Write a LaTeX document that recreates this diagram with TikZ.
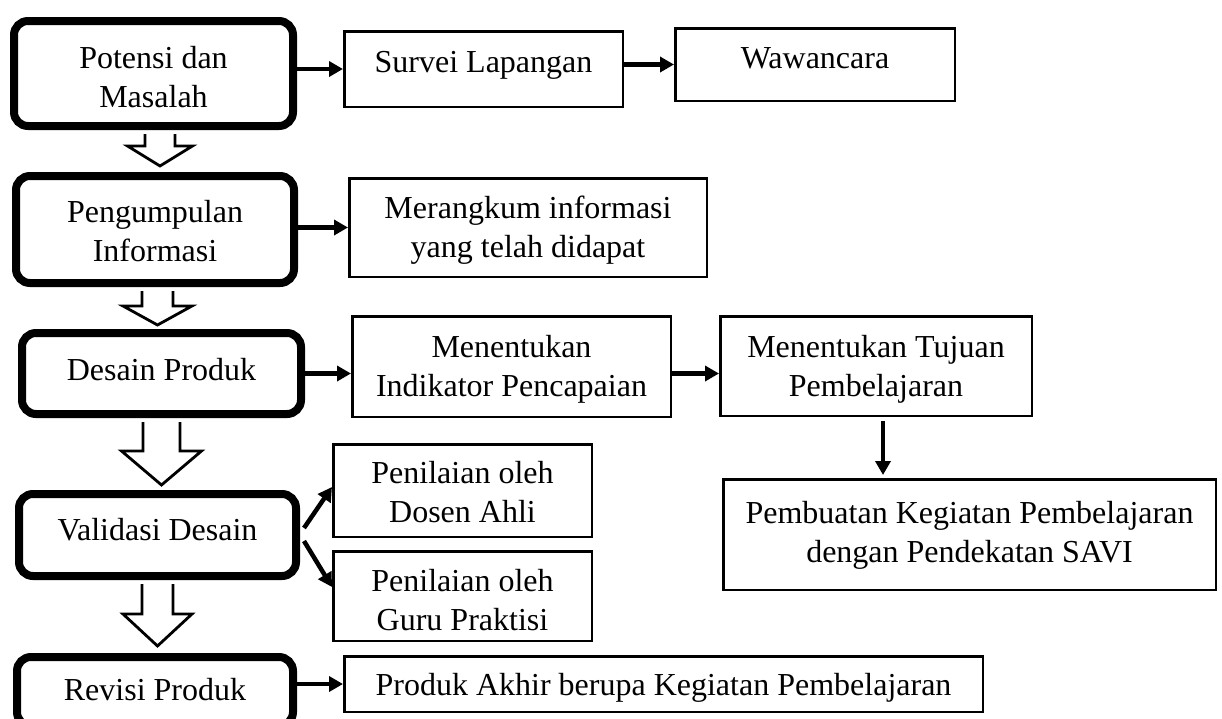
\documentclass[tikz,border=0pt]{standalone}
\usepackage{fontspec}
\setmainfont{Liberation Serif}
\usetikzlibrary{arrows.meta,calc}
\newcommand\twolines[2]{\begin{tabular}[t]{@{}c@{}}#1\\#2\end{tabular}}
\newcommand\hollowarrow[5]{%
  \coordinate (tmptip) at (#1 |- #2);
  \draw[hollow] ($(#1)+(-#3,0)$) -- ($(tmptip)+(-#3,-#5)$) -- ($(tmptip)+(-#4,-#5)$)
     -- (tmptip) -- ($(tmptip)+(#4,-#5)$) -- ($(tmptip)+(#3,-#5)$) -- ($(#1)+(#3,0)$);}
\begin{document}
\begin{tikzpicture}[x=1pt,y=-1pt,
  thickbox/.style={draw=black, line width=8pt, rounded corners=14pt, inner sep=0pt},
  thinbox/.style={draw=black, line width=2.5pt, inner sep=0pt},
  lbl/.style={font=\fontsize{32}{39.5}\selectfont, inner sep=0pt, anchor=base, text=black},
  conn/.style={line width=4.5pt, -{Triangle[length=14pt,width=15pt]}},
  hollow/.style={line width=2.8pt, line join=miter}]
\useasboundingbox (0,0) rectangle (1222,718);
\clip (0,0) rectangle (1222,718);
\fill[white] (0,0) rectangle (1222,718);

% left column (thick rounded boxes)
\node[thickbox, minimum width=279pt, minimum height=105pt] (p1) at (153.5,73.5) {};
\node[lbl] (p1t) at (153.5,68) {\twolines{Potensi dan}{Masalah}};
\node[thickbox, minimum width=278pt, minimum height=107pt] (p2) at (155,229.5) {};
\node[lbl] (p2t) at (155,222) {\twolines{Pengumpulan}{Informasi}};
\node[thickbox, minimum width=279pt, minimum height=81pt] (p3) at (161.5,373.5) {};
\node[lbl] (p3t) at (161.5,380) {Desain Produk};
\node[thickbox, minimum width=277pt, minimum height=82pt] (p4) at (157.5,535) {};
\node[lbl] (p4t) at (157.5,540) {Validasi Desain};
\node[thickbox, minimum width=276pt, minimum height=69pt] (p5) at (155,691.5) {};
\node[lbl] (p5t) at (155,700) {Revisi Produk};

% right side (thin boxes)
\node[thinbox, minimum width=278.5pt, minimum height=75.5pt] (sur) at (483.5,69) {};
\node[lbl] (surt) at (483.5,72) {Survei Lapangan};
\node[thinbox, minimum width=279.5pt, minimum height=72.5pt] (waw) at (815,64.5) {};
\node[lbl] (wawt) at (815,68) {Wawancara};
\node[thinbox, minimum width=357.5pt, minimum height=98.5pt] (mer) at (528,227.5) {};
\node[lbl] (mert) at (528,218) {\twolines{Merangkum informasi}{yang telah didapat}};
\node[thinbox, minimum width=318.5pt, minimum height=100.5pt] (ind) at (511.5,366.5) {};
\node[lbl] (indt) at (511.5,357) {\twolines{Menentukan}{Indikator Pencapaian}};
\node[thinbox, minimum width=311.5pt, minimum height=99.5pt] (tuj) at (876,366) {};
\node[lbl] (tujt) at (876,357) {\twolines{Menentukan Tujuan}{Pembelajaran}};
\node[thinbox, minimum width=492.5pt, minimum height=110.5pt] (savi) at (969.5,534.5) {};
\node[lbl] (savit) at (969.5,523) {\twolines{Pembuatan Kegiatan Pembelajaran}{dengan Pendekatan SAVI}};
\node[thinbox, minimum width=258.5pt, minimum height=92.5pt] (dos) at (462.5,490.5) {};
\node[lbl] (dost) at (462.5,483) {\twolines{Penilaian oleh}{Dosen Ahli}};
\node[thinbox, minimum width=258.5pt, minimum height=89.5pt] (guru) at (462.5,596) {};
\node[lbl] (gurut) at (462.5,591) {\twolines{Penilaian oleh}{Guru Praktisi}};
\node[thinbox, minimum width=638.5pt, minimum height=55.5pt] (prod) at (663.5,684) {};
\node[lbl] (prodt) at (663.5,695) {Produk Akhir berupa Kegiatan Pembelajaran};

% hollow arrows between steps
\coordinate (a1top) at ($(p1.south)+(6.5,4)$);
\coordinate (a1tip) at ($(p2.north)+(5,-6)$);
\hollowarrow{a1top}{a1tip}{15}{32.5}{20}
\coordinate (a2top) at ($(p2.south)+(2.5,4)$);
\coordinate (a2tip) at ($(p3.north)+(-4,-4)$);
\hollowarrow{a2top}{a2tip}{15.5}{34.5}{19}
\coordinate (a3top) at ($(p3.south)+(0,4)$);
\coordinate (a3tip) at ($(p4.north)+(4,-5)$);
\hollowarrow{a3top}{a3tip}{18.5}{40}{34}
\coordinate (a4top) at ($(p4.south)+(0,4)$);
\coordinate (a4tip) at ($(p5.north)+(2.5,-7)$);
\hollowarrow{a4top}{a4tip}{15.5}{34.5}{32}

% connectors
\draw[conn] (p1.east |- sur.west) -- (sur.west);
\draw[conn] (sur.east |- waw.west) -- (waw.west);
\draw[conn] (p2.east |- mer.west) -- (mer.west);
\draw[conn] (p3.east) -- (p3.east -| ind.west);
\draw[conn] (ind.east |- p3.east) -- (tuj.west |- p3.east);
\draw[conn] ($(tuj.south)+(7,4)$) -- ($(tuj.south |- savi.north)+(7,-3)$);
\draw[conn] ($(p4.east)+(4,-7)$) -- ($(dos.west)+(0,-3.5)$);
\draw[conn] ($(p4.east)+(4,6)$) -- ($(guru.west)+(0,-9)$);
\draw[conn] (p5.east |- prod.west) -- (prod.west);
\end{tikzpicture}
\end{document}
